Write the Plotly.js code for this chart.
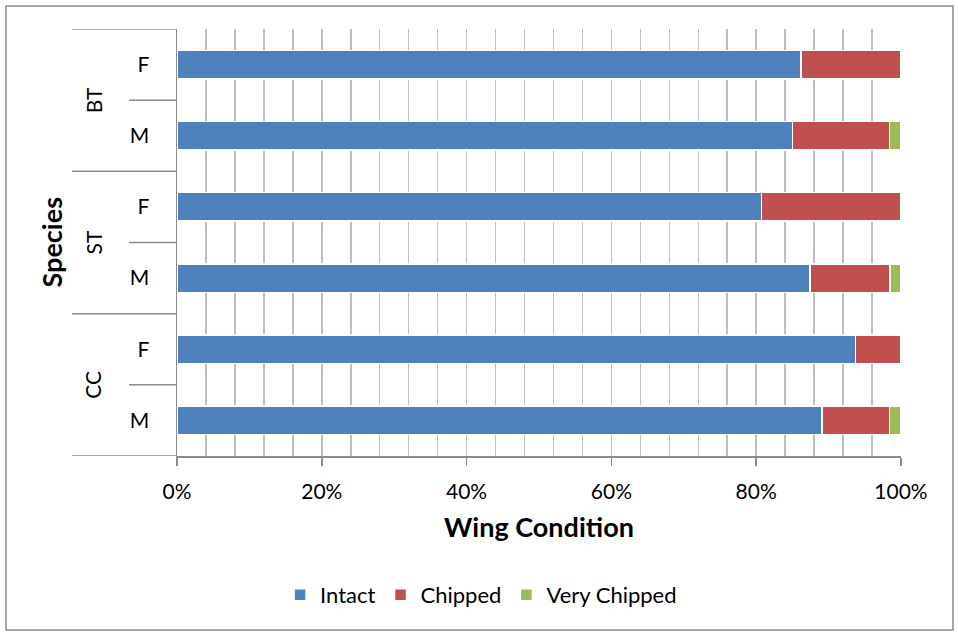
<!DOCTYPE html>
<html>
<head>
<meta charset="utf-8">
<script src="https://cdn.plot.ly/plotly-3.0.1.min.js"></script>
<style>
  html, body { margin: 0; padding: 0; background: #fff; }
  #chart { width: 958px; height: 636px; }
</style>
</head>
<body>
<div id="chart"></div>
<script>
// rows top to bottom
var species = ['BT', 'BT', 'ST', 'ST', 'CC', 'CC'];
var sex = ['F', 'M', 'F', 'M', 'F', 'M'];
var rowIds = ['BT-F', 'BT-M', 'ST-F', 'ST-M', 'CC-F', 'CC-M'];

// percent of wings
var intact = [86.2, 85.0, 80.7, 87.4, 93.7, 89.1];
var chipped = [13.8, 13.4, 19.3, 11.1, 6.3, 9.3];
var veryChipped = [0, 1.6, 0, 1.5, 0, 1.6];

var groups = ['BT', 'ST', 'CC'];

var font = 'Lato, "Open Sans", sans-serif';

function barTrace(name, vals, color) {
    return {
        type: 'bar',
        orientation: 'h',
        name: name,
        y: rowIds,
        x: vals,
        marker: { color: color, line: { color: '#ffffff', width: 1.5 } },
        hoverinfo: 'x+name'
    };
}

var traces = [
    barTrace('Intact', intact, '#4F81BD'),
    barTrace('Chipped', chipped, '#C0504D'),
    barTrace('Very Chipped', veryChipped, '#9BBB59')
];

var shapes = [];
var annotations = [];

// outer chart border
shapes.push({
    type: 'rect', xref: 'paper', yref: 'paper',
    x0: -0.2362, x1: 1.0718, y0: -0.4075, y1: 1.0539,
    line: { color: '#8c8c8c', width: 1.5 }, layer: 'below'
});

// group dividers on the category axis
for (var g = 0; g <= groups.length; g++) {
    shapes.push({
        type: 'line', xref: 'paper', yref: 'y',
        x0: -0.145, x1: 0, y0: g * 2 - 0.5, y1: g * 2 - 0.5,
        line: { color: '#8c8c8c', width: 1.5 }
    });
}
for (var g = 0; g < groups.length; g++) {
    shapes.push({
        type: 'line', xref: 'paper', yref: 'y',
        x0: -0.0663, x1: 0, y0: g * 2 + 0.5, y1: g * 2 + 0.5,
        line: { color: '#8c8c8c', width: 1.5 }
    });
    annotations.push({
        xref: 'paper', yref: 'y', x: -0.116, y: g * 2 + 0.5,
        text: groups[g], showarrow: false, textangle: -90,
        xanchor: 'center', yanchor: 'middle',
        font: { family: font, size: 21, color: '#000' }
    });
}

annotations.push({
    xref: 'paper', yref: 'paper', x: -0.1727, y: 0.5,
    text: '<b>Species</b>', showarrow: false, textangle: -90,
    xanchor: 'center', yanchor: 'middle',
    font: { family: font, size: 27, color: '#000' }
});

var layout = {
    width: 958,
    height: 636,
    autosize: false,
    barmode: 'stack',
    bargap: 0.6,
    paper_bgcolor: '#ffffff',
    plot_bgcolor: '#ffffff',
    margin: { l: 177, r: 57, t: 29, b: 180, autoexpand: false },
    font: { family: font, size: 21, color: '#000' },
    xaxis: {
        range: [0, 100],
        dtick: 20,
        ticksuffix: '%',
        tickangle: 0,
        showgrid: true,
        gridcolor: '#bfbfbf',
        gridwidth: 1.5,
        minor: { dtick: 4, showgrid: true, gridcolor: '#bfbfbf', gridwidth: 1.5 },
        showline: true,
        linecolor: '#8c8c8c',
        linewidth: 1.5,
        ticks: 'outside',
        ticklen: 8,
        tickwidth: 1.5,
        tickcolor: '#8c8c8c',
        ticklabelstandoff: 8,
        zeroline: false,
        tickfont: { family: font, size: 21, color: '#000' },
        title: {
            text: '<b>Wing Condition</b>',
            standoff: 16,
            font: { family: font, size: 27, color: '#000' }
        },
        fixedrange: true
    },
    yaxis: {
        type: 'category',
        categoryorder: 'array',
        categoryarray: rowIds,
        tickvals: rowIds,
        ticktext: sex,
        range: [5.5, -0.5],
        showgrid: false,
        showline: true,
        linecolor: '#8c8c8c',
        linewidth: 1.5,
        ticks: 'outside',
        ticklen: 22,
        tickcolor: 'rgba(0,0,0,0)',
        zeroline: false,
        tickfont: { family: font, size: 21, color: '#000' },
        fixedrange: true
    },
    legend: {
        orientation: 'h',
        x: 0.42,
        xanchor: 'center',
        y: -0.3255,
        yanchor: 'middle',
        itemwidth: 30,
        font: { family: font, size: 22, color: '#000' },
        traceorder: 'normal'
    },
    shapes: shapes,
    annotations: annotations
};

Plotly.newPlot('chart', traces, layout, { displayModeBar: false, staticPlot: true });
</script>
</body>
</html>
